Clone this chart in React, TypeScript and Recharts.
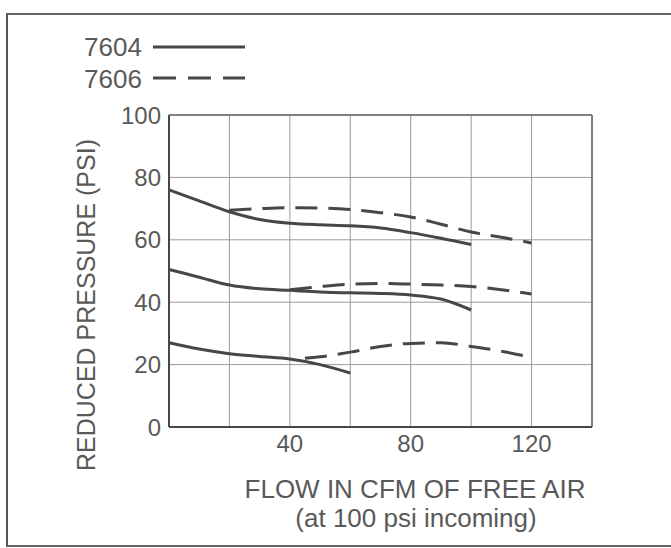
import { CartesianGrid, Line, LineChart, ReferenceLine, XAxis, YAxis } from 'recharts'

// flow in CFM (x) and reduced pressure in PSI (y)
const solidHighFlow = [0, 10, 20, 30, 40, 50, 60, 70, 80, 90, 100]
const solidHighPsi = [76, 72.5, 69, 66.5, 65.3, 64.8, 64.5, 63.8, 62.3, 60.5, 58.5]

const solidMidFlow = [0, 10, 20, 30, 40, 50, 60, 70, 80, 90, 100]
const solidMidPsi = [50.5, 48, 45.5, 44.3, 43.8, 43.3, 43, 42.8, 42.3, 41, 37.5]

const solidLowFlow = [0, 10, 20, 30, 40, 50, 60]
const solidLowPsi = [27, 25, 23.5, 22.6, 21.8, 20, 17.3]

const dashHighFlow = [20, 30, 40, 50, 60, 70, 80, 90, 100, 110, 120]
const dashHighPsi = [69.5, 70, 70.3, 70.2, 69.7, 68.7, 67.3, 65, 62.5, 60.8, 59]

const dashMidFlow = [40, 50, 60, 70, 80, 90, 100, 110, 120]
const dashMidPsi = [44, 45, 45.8, 46, 45.8, 45.5, 45, 44, 42.6]

const dashLowFlow = [45, 50, 60, 70, 80, 90, 100, 110, 120]
const dashLowPsi = [22, 22.5, 24, 25.8, 26.8, 27, 25.8, 24.3, 22.3]

const xTicks = [0, 20, 40, 60, 80, 100, 120, 140]
const xLabelled = [40, 80, 120]
const yTicks = [0, 20, 40, 60, 80, 100]

const legendNames = ['7604', '7606']

type Pt = { flow: number; psi: number }
const toPoints = (xs: number[], ys: number[]): Pt[] => xs.map((x, i) => ({ flow: x, psi: ys[i] }))

const curves = [
  { key: 's-high', data: toPoints(solidHighFlow, solidHighPsi), dashed: false },
  { key: 's-mid', data: toPoints(solidMidFlow, solidMidPsi), dashed: false },
  { key: 's-low', data: toPoints(solidLowFlow, solidLowPsi), dashed: false },
  { key: 'd-high', data: toPoints(dashHighFlow, dashHighPsi), dashed: true },
  { key: 'd-mid', data: toPoints(dashMidFlow, dashMidPsi), dashed: true },
  { key: 'd-low', data: toPoints(dashLowFlow, dashLowPsi), dashed: true },
]

const INK = '#474747'
const TEXT = '#595959'
const FONT = '"Liberation Sans", Arial, sans-serif'

export default function App() {
  return (
    <div
      style={{
        position: 'absolute',
        left: 0,
        top: 0,
        width: 671,
        height: 548,
        overflow: 'hidden',
        background: '#fff',
        fontFamily: FONT,
      }}
    >
      {/* scanned page frame: top, left and bottom rule */}
      <div
        style={{
          position: 'absolute',
          left: 6,
          top: 13,
          width: 680,
          height: 530,
          borderTop: '2px solid #666',
          borderLeft: '2px solid #555',
          borderBottom: '2px solid #666',
        }}
      />

      <LineChart
        width={671}
        height={548}
        margin={{ top: 115, right: 79, bottom: 81, left: 109 }}
        style={{ position: 'absolute', left: 0, top: 0 }}
      >
        <CartesianGrid stroke="#9a9a9a" strokeWidth={1} />
        <XAxis
          dataKey="flow"
          type="number"
          domain={[0, 140]}
          ticks={xTicks}
          allowDuplicatedCategory={false}
          tickFormatter={(v: number) => (xLabelled.includes(v) ? String(v) : '')}
          tickLine={false}
          axisLine={{ stroke: INK, strokeWidth: 2 }}
          tick={{ fill: TEXT, fontSize: 24, fontFamily: FONT }}
          height={40}
        />
        <YAxis
          dataKey="psi"
          type="number"
          domain={[0, 100]}
          ticks={yTicks}
          tickLine={false}
          axisLine={{ stroke: INK, strokeWidth: 2 }}
          tick={{ fill: TEXT, fontSize: 24, fontFamily: FONT }}
          width={60}
        />
        <ReferenceLine y={100} stroke="#666" strokeWidth={1.5} />
        <ReferenceLine x={140} stroke="#666" strokeWidth={1.5} />
        {curves.map((c) => (
          <Line
            key={c.key}
            data={c.data}
            dataKey="psi"
            type="monotone"
            stroke={INK}
            strokeWidth={3}
            strokeDasharray={c.dashed ? '22 11' : undefined}
            dot={false}
            activeDot={false}
            isAnimationActive={false}
          />
        ))}
      </LineChart>

      <svg
        width={671}
        height={548}
        style={{ position: 'absolute', left: 0, top: 0, pointerEvents: 'none' }}
      >
        {/* legend */}
        <text x={84} y={56} fontSize={26} fill={TEXT} fontFamily={FONT}>
          {legendNames[0]}
        </text>
        <line x1={153} x2={245} y1={47} y2={47} stroke={INK} strokeWidth={3} />
        <text x={84} y={88} fontSize={26} fill={TEXT} fontFamily={FONT}>
          {legendNames[1]}
        </text>
        <line
          x1={153}
          x2={245}
          y1={78}
          y2={78}
          stroke={INK}
          strokeWidth={3}
          strokeDasharray="23 12"
        />

        {/* axis titles */}
        <text
          x={86}
          y={305}
          transform="rotate(-90 86 305)"
          textAnchor="middle"
          dominantBaseline="central"
          fontSize={25}
          fill={TEXT}
          fontFamily={FONT}
        >
          REDUCED PRESSURE (PSI)
        </text>
        <text x={415} y={498} textAnchor="middle" fontSize={26} fill={TEXT} fontFamily={FONT}>
          FLOW IN CFM OF FREE AIR
        </text>
        <text x={416} y={527} textAnchor="middle" fontSize={26} fill={TEXT} fontFamily={FONT}>
          (at 100 psi incoming)
        </text>
      </svg>
    </div>
  )
}
